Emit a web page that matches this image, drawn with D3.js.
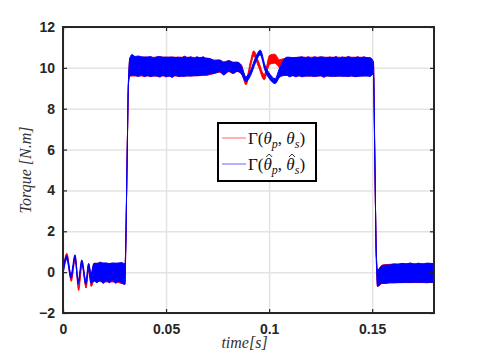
<!DOCTYPE html>
<html>
<head>
<meta charset="utf-8">
<script src="https://cdn.jsdelivr.net/npm/d3@7"></script>
<style>
  body { margin: 0; background: #fff; }
  svg { display: block; }
  .tick text { font-family: "Liberation Sans", Arial, sans-serif; font-weight: bold; font-size: 14px; fill: #262626; }
</style>
</head>
<body>
<svg id="chart" width="480" height="353"></svg>
<script>
// tick labels
const xTicks = [0, 0.05, 0.1, 0.15];
const xTickLabels = ['0', '0.05', '0.1', '0.15'];
const yTicks = [-2, 0, 2, 4, 6, 8, 10, 12];

// blue: Γ(θ̂p, θ̂s) -- centre of the trace and half width of the fast ripple band
const blueTime = [0, 0.0018, 0.0039, 0.0058, 0.0074, 0.0091, 0.0111, 0.0124, 0.0136,
  0.015, 0.0165, 0.018, 0.0195, 0.021, 0.0225, 0.024, 0.0255, 0.027, 0.0285, 0.0301,
  0.0304, 0.0311, 0.0318, 0.0325,
  0.0335, 0.035, 0.0365, 0.038, 0.0395, 0.041, 0.0425, 0.044, 0.0455, 0.047, 0.0485, 0.05, 0.0515,
  0.053, 0.0545, 0.056, 0.0575, 0.059, 0.0605, 0.062, 0.0635, 0.065, 0.0665, 0.068, 0.0695, 0.071,
  0.0735, 0.076, 0.078, 0.0805, 0.0825, 0.0845, 0.0865, 0.0888, 0.091, 0.0935, 0.0957, 0.098,
  0.1005, 0.1029, 0.105, 0.107,
  0.1085, 0.11, 0.1115, 0.113, 0.1145, 0.116, 0.1175, 0.119, 0.1205, 0.122, 0.1235, 0.125, 0.1265,
  0.128, 0.1295, 0.131, 0.1325, 0.134, 0.1355, 0.137, 0.1385, 0.14, 0.1415, 0.143, 0.1445, 0.146,
  0.1475, 0.149,
  0.1506, 0.1513, 0.152, 0.1526,
  0.1545, 0.1565, 0.1585, 0.1605, 0.1625, 0.1645, 0.1665, 0.1685, 0.1705, 0.1725, 0.1745, 0.1765,
  0.1785, 0.18];
const blueMid = [0, 0.72, -0.2, 0.75, -0.5, 0.5, -0.5, 0.28, -0.3,
  0, -0.05, 0.05, -0.05, 0.02, -0.05, 0.03, -0.05, 0, -0.03, -0.1,
  1.0, 5.5, 9.4, 10.05,
  10.15, 10.1, 10.08, 10.1, 10.05, 10.08, 10.06, 10.04, 10.07, 10.05, 10.08, 10.04, 10.06,
  10.03, 10.07, 10.05, 10.04, 10.08, 10.05, 10.07, 10.04, 10.08, 10.06, 10.1, 10.05, 10.08,
  10.05, 10.1, 9.95, 10.1, 10.0, 10.05, 9.9, 9.45, 9.75, 10.4, 10.75, 10.0,
  9.55, 9.35, 9.75, 10.0,
  10.08, 10.04, 10.06, 10.03, 10.07, 10.05, 10.04, 10.07, 10.03, 10.06, 10.05, 10.08, 10.03,
  10.05, 10.06, 10.04, 10.07, 10.03, 10.06, 10.04, 10.07, 10.05, 10.03, 10.06, 10.04, 10.07,
  10.05, 10.04,
  10.0, 5.5, 0.8, -0.3,
  -0.12, -0.1, -0.08, -0.06, -0.07, -0.04, -0.05, -0.03, -0.05, -0.03, -0.05, -0.04,
  -0.03, -0.05];
const blueRip = [0.1, 0.1, 0.1, 0.1, 0.1, 0.1, 0.1, 0.15, 0.25,
  0.42, 0.47, 0.44, 0.5, 0.43, 0.47, 0.42, 0.49, 0.45, 0.5, 0.5,
  0.1, 0.08, 0.1, 0.45,
  0.5, 0.46, 0.5, 0.44, 0.48, 0.45, 0.49, 0.43, 0.47, 0.5, 0.44, 0.48, 0.46,
  0.5, 0.43, 0.47, 0.45, 0.49, 0.44, 0.47, 0.42, 0.46, 0.43, 0.44, 0.4, 0.38,
  0.32, 0.28, 0.3, 0.25, 0.27, 0.22, 0.2, 0.12, 0.13, 0.13, 0.12, 0.13,
  0.13, 0.12, 0.22, 0.38,
  0.44, 0.48, 0.43, 0.47, 0.45, 0.49, 0.44, 0.47, 0.43, 0.48, 0.45, 0.46, 0.49,
  0.44, 0.47, 0.45, 0.48, 0.43, 0.47, 0.45, 0.49, 0.44, 0.46, 0.48, 0.44, 0.47,
  0.45, 0.46,
  0.3, 0.08, 0.08, 0.4,
  0.42, 0.45, 0.43, 0.46, 0.44, 0.47, 0.45, 0.48, 0.44, 0.47, 0.45, 0.48,
  0.46, 0.46];

// red: Γ(θp, θs)
const redTime = [0, 0.0019, 0.004, 0.0059, 0.0076, 0.0092, 0.0112, 0.0125, 0.0137,
  0.015, 0.02, 0.025, 0.0301, 0.0304, 0.0311, 0.0318, 0.0325, 0.04, 0.05, 0.06, 0.07,
  0.0735, 0.076, 0.078, 0.0805, 0.0825, 0.0845, 0.0865, 0.0888, 0.091, 0.0925, 0.0948, 0.0976,
  0.1003, 0.1027, 0.105, 0.107,
  0.115, 0.125, 0.135, 0.145, 0.1506, 0.1513, 0.152, 0.1526, 0.155, 0.165, 0.175, 0.18];
const redMid = [0, 0.82, -0.35, 0.7, -0.8, 0.45, -0.68, 0.25, -0.45,
  0, -0.03, -0.03, -0.1, 1.0, 5.5, 9.4, 10.05, 10.06, 10.06, 10.06, 10.06,
  10.05, 10.08, 10.0, 10.08, 10.0, 10.05, 9.95, 9.3, 10.2, 10.7, 10.2, 9.55,
  10.4, 10.45, 10.2, 10.05,
  10.06, 10.06, 10.06, 10.06, 10.0, 5.5, 0.8, -0.3, -0.1, -0.05, -0.05, -0.05];
const redRip = [0.1, 0.1, 0.1, 0.1, 0.1, 0.1, 0.1, 0.15, 0.25,
  0.44, 0.45, 0.45, 0.48, 0.1, 0.08, 0.1, 0.45, 0.46, 0.46, 0.46, 0.42,
  0.32, 0.3, 0.3, 0.27, 0.27, 0.23, 0.2, 0.13, 0.13, 0.13, 0.13, 0.13,
  0.22, 0.22, 0.2, 0.4,
  0.46, 0.46, 0.46, 0.46, 0.3, 0.08, 0.08, 0.4, 0.45, 0.46, 0.46, 0.46];

const plotLeft = 63, plotRight = 434, plotTop = 27, plotBottom = 313;

const x = d3.scaleLinear().domain([0, 0.18]).range([plotLeft, plotRight]);
const y = d3.scaleLinear().domain([-2, 12]).range([plotBottom, plotTop]);

const svg = d3.select('#chart');

svg.append('defs').append('clipPath').attr('id', 'clip')
  .append('rect')
  .attr('x', plotLeft).attr('y', plotTop)
  .attr('width', plotRight - plotLeft).attr('height', plotBottom - plotTop);

// grid
svg.append('g')
  .attr('transform', `translate(0, ${plotBottom})`)
  .call(d3.axisBottom(x).tickValues(xTicks).tickSize(-(plotBottom - plotTop)).tickFormat(''))
  .call(g => g.select('.domain').remove())
  .call(g => g.selectAll('line').attr('stroke', '#e3e3e3').attr('stroke-width', 1.5));
svg.append('g')
  .attr('transform', `translate(${plotLeft}, 0)`)
  .call(d3.axisLeft(y).tickValues(yTicks).tickSize(-(plotRight - plotLeft)).tickFormat(''))
  .call(g => g.select('.domain').remove())
  .call(g => g.selectAll('line').attr('stroke', '#e3e3e3').attr('stroke-width', 1.5));

const band = (time, mid, rip) => time.map((t, i) => ({ t, lo: mid[i] - rip[i], hi: mid[i] + rip[i] }));

const area = d3.area()
  .curve(d3.curveMonotoneX)
  .x(d => x(d.t))
  .y0(d => y(d.lo))
  .y1(d => y(d.hi));

const traces = svg.append('g').attr('clip-path', 'url(#clip)');

traces.append('path')
  .datum(band(redTime, redMid, redRip))
  .attr('d', area)
  .attr('fill', '#ff0000')
  .attr('stroke', '#ff0000')
  .attr('stroke-width', 1)
  .attr('stroke-linejoin', 'round');

traces.append('path')
  .datum(band(blueTime, blueMid, blueRip))
  .attr('d', area)
  .attr('fill', '#0000ff')
  .attr('stroke', '#0000ff')
  .attr('stroke-width', 1)
  .attr('stroke-linejoin', 'round');

// axes with inward ticks
const axisColor = '#262626';
const styleAxis = g => {
  g.select('.domain').remove();
  g.selectAll('.tick line').attr('stroke', axisColor).attr('stroke-width', 1.2);
};

svg.append('g')
  .attr('transform', `translate(0, ${plotBottom})`)
  .call(d3.axisBottom(x).tickValues(xTicks).tickFormat((d, i) => xTickLabels[i])
    .tickSizeInner(-4).tickSizeOuter(0).tickPadding(11))
  .call(styleAxis);
svg.append('g')
  .attr('transform', `translate(0, ${plotTop})`)
  .call(d3.axisTop(x).tickValues(xTicks).tickFormat('').tickSizeInner(-4).tickSizeOuter(0))
  .call(styleAxis);
svg.append('g')
  .attr('transform', `translate(${plotLeft}, 0)`)
  .call(d3.axisLeft(y).tickValues(yTicks).tickSizeInner(-4).tickSizeOuter(0).tickPadding(8))
  .call(styleAxis);
svg.append('g')
  .attr('transform', `translate(${plotRight}, 0)`)
  .call(d3.axisRight(y).tickValues(yTicks).tickFormat('').tickSizeInner(-4).tickSizeOuter(0))
  .call(styleAxis);

svg.append('rect')
  .attr('x', plotLeft).attr('y', plotTop)
  .attr('width', plotRight - plotLeft).attr('height', plotBottom - plotTop)
  .attr('fill', 'none')
  .attr('stroke', axisColor)
  .attr('stroke-width', 2);

// axis labels
const serif = '"Liberation Serif", "DejaVu Serif", serif';
svg.append('text')
  .attr('x', (plotLeft + plotRight) / 2 - 4)
  .attr('y', 348)
  .attr('text-anchor', 'middle')
  .attr('font-family', serif)
  .attr('font-style', 'italic')
  .attr('font-size', 16)
  .attr('fill', '#333')
  .text('time[s]');

svg.append('text')
  .attr('transform', `translate(31, ${(plotTop + plotBottom) / 2}) rotate(-90)`)
  .attr('text-anchor', 'middle')
  .attr('font-family', serif)
  .attr('font-style', 'italic')
  .attr('font-size', 16)
  .attr('fill', '#333')
  .text('Torque [N.m]');

// legend
const legendItems = [
  { color: '#ff0000', hat: false },
  { color: '#0000ff', hat: true }
];
const legend = svg.append('g');
legend.append('rect')
  .attr('x', 218).attr('y', 123)
  .attr('width', 98).attr('height', 58)
  .attr('fill', '#fff')
  .attr('stroke', '#000')
  .attr('stroke-width', 2);

legendItems.forEach((item, i) => {
  const ly = 138 + i * 26;
  const base = ly + 6;
  legend.append('line')
    .attr('x1', 222).attr('x2', 246)
    .attr('y1', ly).attr('y2', ly)
    .attr('stroke', item.color)
    .attr('stroke-opacity', 0.6)
    .attr('stroke-width', 1);
  const t = legend.append('text')
    .attr('x', 248).attr('y', base)
    .attr('font-family', serif)
    .attr('font-size', 17)
    .attr('fill', '#111');
  t.append('tspan').text('\u0393(');
  t.append('tspan').attr('font-style', 'italic').text('\u03b8');
  t.append('tspan').attr('font-size', 12).attr('font-style', 'italic').attr('dy', 4).text('p');
  t.append('tspan').attr('dy', -4).text(', ');
  t.append('tspan').attr('font-style', 'italic').text('\u03b8');
  t.append('tspan').attr('font-size', 12).attr('font-style', 'italic').attr('dy', 4).text('s');
  t.append('tspan').attr('dy', -4).text(')');

  if (item.hat) {
    // circumflex accents over both thetas (chars 2 and 6)
    [2, 6].forEach(ci => {
      const s = t.node().getStartPositionOfChar(ci).x;
      const e = t.node().getEndPositionOfChar(ci).x;
      const cx = (s + e) / 2 + 1.5;
      legend.append('path')
        .attr('d', `M${cx - 3},${base - 13} L${cx},${base - 16} L${cx + 3},${base - 13}`)
        .attr('fill', 'none')
        .attr('stroke', '#111')
        .attr('stroke-width', 0.9);
    });
  }
});
</script>
</body>
</html>
